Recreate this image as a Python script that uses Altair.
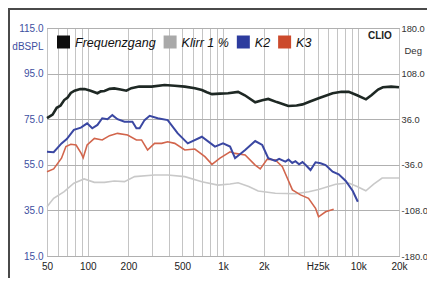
import altair as alt
import pandas as pd

series_names = ["Frequenzgang", "Klirr 1 %", "K2", "K3"]
series_colors = ["#1e2824", "#c9c9c9", "#3a47a2", "#d2654c"]
legend_colors = ["#0d0d0d", "#a9a9a9", "#2d3c9e", "#cc4a2c"]

fg_freq = [50, 55, 59, 63, 67, 71, 75, 80, 88, 95, 105, 118, 125, 133, 145, 157, 175, 193, 210, 240,
           297, 370, 440, 522, 620, 698, 760, 829, 950, 1090, 1293, 1450, 1730, 1950, 2160, 2500,
           3040, 3500, 3870, 4400, 5090, 6460, 7500, 8500, 9800, 11400, 12500, 14000, 15200, 17500, 20000]
fg_db = [75.5, 77, 80, 81, 83.4, 84.5, 86.5, 87.5, 88.2, 88.2, 87.5, 86.4, 87.2, 87.4, 88.3, 88.5, 88, 87.5, 88.6, 89.3,
         89.3, 90, 89.7, 89.3, 88.6, 87.8, 86.8, 86, 86.2, 86.4, 87, 85.5, 82.4, 83.3, 83.9, 82.5,
         80.8, 81, 81.5, 82.8, 84.2, 86.4, 87, 87, 85.5, 83.7, 85.5, 88, 89, 89.3, 89]

klirr_freq = [50, 56, 67, 79, 94, 112, 133, 157, 187, 222, 312, 390, 522, 698, 918, 1128, 1293, 1550,
              1820, 2436, 3431, 4300, 5086, 6805, 8500, 9800, 11374, 13000, 15000, 20000]
klirr_db = [36.6, 40.3, 43.2, 46.9, 48.8, 47.3, 47.3, 47.9, 47.6, 49.8, 50.5, 50.5, 49.8, 47.6, 46.1, 46.6, 47.1, 45.5,
            43.5, 42.5, 42.3, 43.2, 44.2, 46.5, 47, 45.5, 43.6, 46.5, 49.2, 49.2]

k2_freq = [50, 56, 64, 70, 79, 89, 99, 108, 118, 128, 140, 152, 166, 187, 214, 229, 242, 263, 287, 329,
           390, 463, 549, 698, 872, 1000, 1128, 1228, 1458, 1730, 1950, 2160, 2436, 2600, 2890, 3050,
           3250, 3431, 3650, 3870, 4100, 4436, 4831, 5265, 5734, 6464, 7166, 8078, 9105, 9921]
k2_db = [60.7, 60.5, 64.4, 66.3, 70.3, 71.3, 73.2, 71, 72.5, 75.4, 75, 76.8, 75, 73.9, 73.9, 71, 71, 74.6, 76.5, 75.4,
         74.6, 68.8, 64.4, 67.3, 63, 64.4, 63, 57.9, 61.5, 65.4, 63.7, 57.9, 56.7, 57.6, 56.4, 57.3,
         55.8, 56.6, 55.2, 56.2, 54.8, 52.7, 56.1, 55.7, 54.9, 52, 50.8, 47.9, 43.5, 38.8]

k3_freq = [50, 56, 64, 69, 75, 82, 89.5, 92.6, 99, 112, 128, 145, 166, 197, 229, 250, 277, 312, 352, 390,
           440, 522, 619, 735, 829, 950, 1128, 1228, 1458, 1730, 1885, 2125, 2436, 2746, 2992, 3259,
           3737, 4287, 4831, 5086, 5734, 6577]
k3_db = [52, 53.2, 57.9, 63, 64, 63.7, 60, 58.1, 63.7, 66.6, 65.9, 67.8, 68.8, 68.1, 65.9, 65.9, 61.5, 64.4, 64.4, 65.1,
         64.4, 61.5, 61.9, 58.6, 55.2, 57.9, 60.7, 60, 59.3, 54.9, 53.2, 57.5, 57.1, 54.2, 49.1, 44,
         41.8, 40.3, 35.9, 32.2, 34.4, 35.5]

grid_freqs = [50, 60, 70, 80, 90, 100, 200, 300, 400, 500, 600, 700, 800, 900,
              1000, 2000, 3000, 4000, 5000, 6000, 7000, 8000, 9000, 10000, 20000]
tick_freqs = [50, 100, 200, 500, 1000, 2000, 5000, 10000, 20000]
tick_labels = ["50", "100", "200", "500", "1k", "2k", "Hz5k", "10k", "20k"]
db_ticks = [15, 35, 55, 75, 95, 115]
deg_labels = ["-180.0", "-108.0", "-36.0", "36.0", "108.0", "180.0"]

rows = []
for name, fs, vs in [("Frequenzgang", fg_freq, fg_db), ("Klirr 1 %", klirr_freq, klirr_db),
                     ("K2", k2_freq, k2_db), ("K3", k3_freq, k3_db)]:
    for f, v in zip(fs, vs):
        rows.append({"series": name, "f": f, "db": v})
df = pd.DataFrame(rows)

FONT = "Liberation Sans"
LEG_FS = 12.5
SQ = 13

# legend layout: approximate Arial text widths to place swatches one after another
CHAR_W = {"F": .611, "K": .667, "l": .222, "i": .222, "r": .333, "z": .5, " ": .278, "%": .889}
def text_w(s):
    return sum(CHAR_W.get(c, .556) for c in s) * LEG_FS

leg_rows = []
cursor = 10
for name, col in zip(series_names, legend_colors):
    leg_rows.append({"series": name, "col": col, "sx": cursor + SQ / 2, "tx": cursor + SQ + 5})
    cursor += SQ + 5 + text_w(name) + 8
leg_df = pd.DataFrame(leg_rows)

x_expr = "".join(f"datum.value == {f} ? '{l}' : " for f, l in zip(tick_freqs, tick_labels)) + "''"
deg_expr = "".join(f"datum.value == {d} ? '{l}' : " for d, l in zip(db_ticks, deg_labels)) + "''"

x_enc = alt.X("f:Q", scale=alt.Scale(type="log", domain=[50, 20000], nice=False),
              axis=alt.Axis(values=grid_freqs, labelExpr=x_expr, title=None, ticks=False, domain=False,
                            grid=True, gridColor="#c4c4c4", gridWidth=1, labelFont=FONT, labelFontSize=10,
                            labelColor="#222222", labelPadding=5, labelOverlap=False, labelFlush=False))
y_scale = alt.Scale(domain=[15, 115], nice=False, zero=False)
color_nolegend = alt.Color("series:N", scale=alt.Scale(domain=series_names, range=series_colors), legend=None)

base = alt.Chart(df)

frame = alt.Chart(pd.DataFrame({"a": [0]})).mark_rect(
    fill="transparent", stroke="#4a4a4a", strokeWidth=2
).encode(x=alt.value(-38), x2=alt.value(430), y=alt.value(-19), y2=alt.value(280))

grey = base.transform_filter(alt.datum.series == "Klirr 1 %").mark_line(strokeWidth=1.6).encode(
    x=x_enc,
    y=alt.Y("db:Q", scale=y_scale,
            axis=alt.Axis(orient="left", values=db_ticks, format=".1f", title="dBSPL", titleAngle=0,
                          titleAlign="right", titleBaseline="middle", titleX=-4, titleY=18,
                          titleFont=FONT, titleFontSize=10, titleFontWeight="normal", titleColor="#3d4f9f",
                          labelFont=FONT, labelFontSize=10, labelColor="#3d4f9f", labelPadding=4,
                          ticks=False, domain=False, grid=True, gridColor="#b0b0b0")),
    color=color_nolegend)

def series_layer(name, width):
    return base.transform_filter(alt.datum.series == name).mark_line(strokeWidth=width).encode(
        x=x_enc, y=alt.Y("db:Q", scale=y_scale, axis=None), color=color_nolegend)

black = series_layer("Frequenzgang", 2.6)
red = series_layer("K3", 1.6)
blue = series_layer("K2", 2.0)

right_axis = base.transform_filter(alt.datum.series == "Klirr 1 %").mark_line(opacity=0).encode(
    x=x_enc,
    y=alt.Y("db:Q", scale=y_scale,
            axis=alt.Axis(orient="right", values=db_ticks, labelExpr=deg_expr, title="Deg", titleAngle=0,
                          titleAlign="left", titleBaseline="middle", titleX=5, titleY=22,
                          titleFont=FONT, titleFontSize=9.5, titleFontWeight="normal", titleColor="#333333",
                          labelFont=FONT, labelFontSize=9.3, labelColor="#333333", labelPadding=2,
                          ticks=False, domain=False, grid=False)),
    color=color_nolegend)

leg_sq = alt.Chart(leg_df).mark_square(size=SQ * SQ, opacity=1, strokeWidth=0).encode(
    x=alt.X("sx:Q", scale=None), y=alt.value(14), fill=alt.Fill("col:N", scale=None))
leg_tx = alt.Chart(leg_df).mark_text(
    font=FONT, fontSize=LEG_FS, fontStyle="italic", align="left", baseline="middle", color="#111111"
).encode(x=alt.X("tx:Q", scale=None), y=alt.value(14.5), text="series:N")

clio = alt.Chart(pd.DataFrame({"t": ["CLIO"]})).mark_text(
    font=FONT, fontSize=10, fontWeight="bold", align="left", baseline="middle", color="#222222"
).encode(text="t:N", x=alt.value(321), y=alt.value(8))

chart = alt.layer(frame, grey, black, red, blue, right_axis, leg_sq, leg_tx, clio).resolve_axis(
    y="independent").properties(
    width=352, height=228,
    autosize=alt.AutoSizeParams(type="none"),
    padding={"left": 39, "top": 20, "right": 28, "bottom": 22},
    background="white",
).configure_view(stroke="#8a8a8a", strokeWidth=1)

chart.save("out.html", embed_options={"renderer": "svg", "actions": False})
